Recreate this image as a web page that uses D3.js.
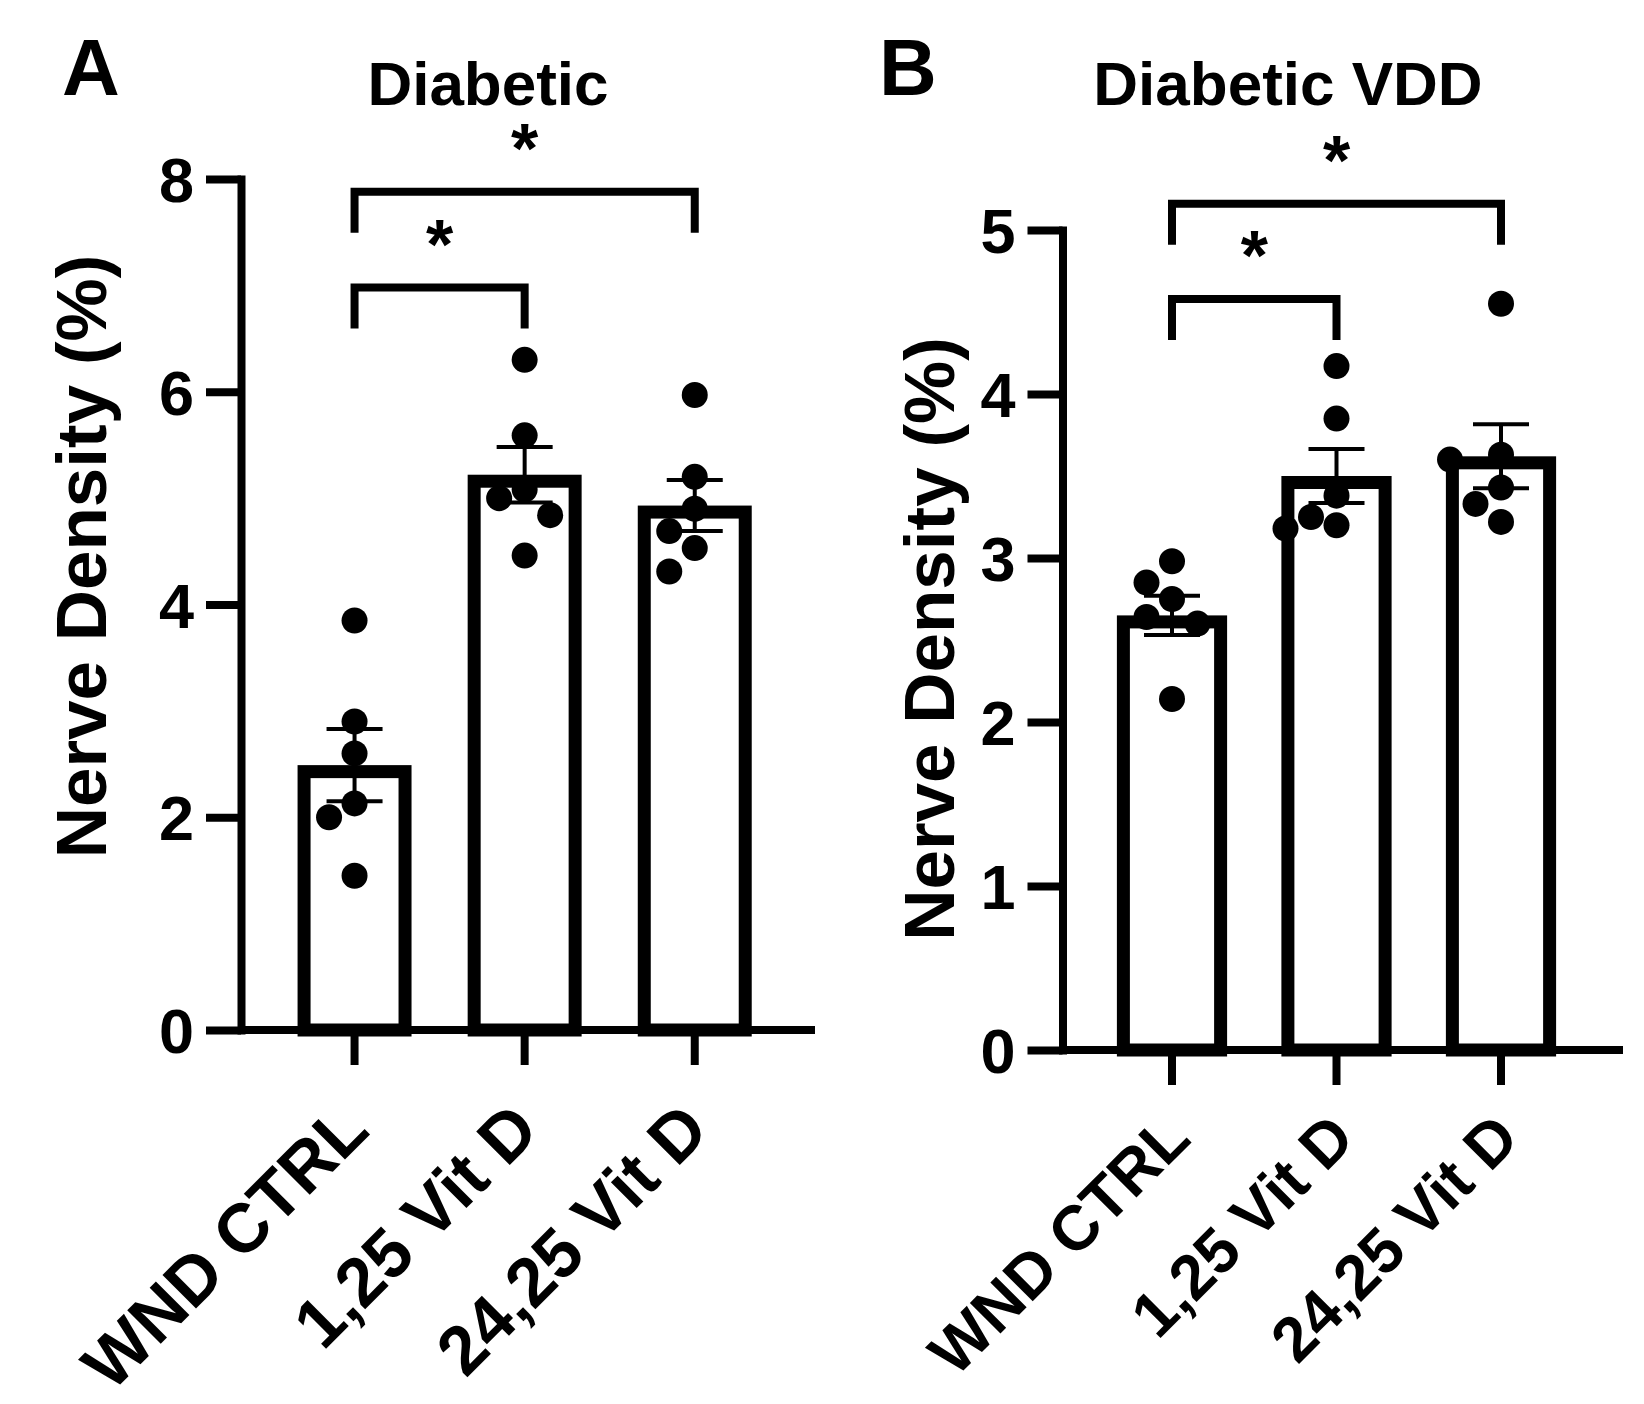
<!DOCTYPE html>
<html>
<head>
<meta charset="utf-8">
<script src="https://cdn.jsdelivr.net/npm/d3@7"></script>
<style>
  body { margin: 0; background: #fff; }
  svg { display: block; }
  text { font-family: "Liberation Sans", Arial, sans-serif; font-weight: bold; fill: #000; }
</style>
</head>
<body>
<svg id="chart" width="1644" height="1404"></svg>
<script>
// groups shared by both panels
const groups = ['WND CTRL', '1,25 Vit D', '24,25 Vit D']

// panel A: Diabetic
const diabeticMean = [2.49, 5.22, 4.93]
const diabeticSem = [0.34, 0.26, 0.24]
const diabeticPoints = [
  [3.85, 2.90, 2.60, 2.13, 2.00, 1.45],
  [6.30, 5.59, 5.08, 5.00, 4.84, 4.46],
  [5.97, 5.20, 4.90, 4.69, 4.53, 4.31]
]
const diabeticTicks = [0, 2, 4, 6, 8]
// [from group, to group, bracket level]
const diabeticComps = [[0, 1, 6.98], [0, 2, 7.88]]

// panel B: Diabetic VDD
const vddMean = [2.65, 3.50, 3.62]
const vddSem = [0.12, 0.165, 0.195]
const vddPoints = [
  [2.98, 2.85, 2.75, 2.64, 2.60, 2.14],
  [4.17, 3.85, 3.38, 3.25, 3.20, 3.18],
  [4.55, 3.63, 3.60, 3.43, 3.33, 3.22]
]
const vddTicks = [0, 1, 2, 3, 4, 5]
const vddComps = [[0, 1, 4.58], [0, 2, 5.16]]

const yLabel = 'Nerve Density (%)'

const panels = [
  {letter: 'A', title: 'Diabetic', mean: diabeticMean, sem: diabeticSem, points: diabeticPoints,
   ticks: diabeticTicks, comps: diabeticComps,
   axisX: 241, yTop: 179, yZero: 1030, xRight: 815, bandStart: 269.5, step: 170.1,
   letterX: 62, titleX: 488, axisTitleX: 105.5, axisTitleY: 556.5,
   labelSize: 69, labelDx: 17, labelDy: 103},
  {letter: 'B', title: 'Diabetic VDD', mean: vddMean, sem: vddSem, points: vddPoints,
   ticks: vddTicks, comps: vddComps,
   axisX: 1062.5, yTop: 230, yZero: 1050, xRight: 1623, bandStart: 1089.75, step: 164.5,
   letterX: 879, titleX: 1288, axisTitleX: 954, axisTitleY: 639,
   labelSize: 63, labelDx: 21, labelDy: 91}
]

const barStroke = 13
const axisStroke = 8
const dotR = 13
const capW = 56
const armLen = 41

const svg = d3.select('#chart')

// simple swarm: place points from highest to lowest, sideways if they would overlap
function swarm(vals, cx, y, spread) {
  const placed = []
  const order = vals.map((v, i) => i).sort((a, b) => vals[b] - vals[a])
  order.forEach(i => {
    const py = y(vals[i])
    for (const k of [0, -1, 1, -2, 2]) {
      const px = cx + k * spread
      const hit = placed.some(p => Math.hypot(p.x - px, p.y - py) < dotR * 2)
      if (!hit) { placed.push({x: px, y: py}); break }
    }
  })
  return placed
}

panels.forEach(p => {
  const g = svg.append('g')
  const yMax = p.ticks[p.ticks.length - 1]

  const y = d3.scaleLinear().domain([0, yMax]).range([p.yZero, p.yTop])
  const x = d3.scaleBand()
    .domain(groups)
    .range([p.bandStart, p.bandStart + p.step * groups.length])
    .paddingInner(0.33)
    .paddingOuter(0.165)
  const bw = x.bandwidth()
  const cx = i => x(groups[i]) + bw / 2

  // panel letter and title
  g.append('text').attr('x', p.letterX).attr('y', 95).style('font-size', '80px').text(p.letter)
  g.append('text').attr('x', p.titleX).attr('y', 105).attr('text-anchor', 'middle')
    .style('font-size', '62px').text(p.title)

  // y axis title
  g.append('text')
    .attr('transform', `translate(${p.axisTitleX},${p.axisTitleY}) rotate(-90)`)
    .attr('text-anchor', 'middle')
    .style('font-size', '71px')
    .text(yLabel)

  // bars
  g.selectAll('rect.bar')
    .data(p.mean)
    .enter().append('rect')
    .attr('class', 'bar')
    .attr('x', (d, i) => x(groups[i]) + barStroke / 2)
    .attr('width', bw - barStroke)
    .attr('y', d => y(d) + barStroke / 2)
    .attr('height', d => y(0) - y(d) - barStroke / 2)
    .attr('fill', '#fff')
    .attr('stroke', '#000')
    .attr('stroke-width', barStroke)

  // individual points
  p.points.forEach((vals, i) => {
    g.append('g').selectAll('circle')
      .data(swarm(vals, cx(i), y, 25.5))
      .enter().append('circle')
      .attr('cx', d => d.x)
      .attr('cy', d => d.y)
      .attr('r', dotR)
      .attr('fill', '#000')
  })

  // error bars (mean +/- SEM)
  const eb = g.append('g').attr('stroke', '#000').attr('stroke-width', 4)
  p.mean.forEach((m, i) => {
    const lo = y(m - p.sem[i]), hi = y(m + p.sem[i])
    eb.append('line').attr('x1', cx(i)).attr('x2', cx(i)).attr('y1', lo).attr('y2', hi)
    eb.append('line').attr('x1', cx(i) - capW / 2).attr('x2', cx(i) + capW / 2).attr('y1', hi).attr('y2', hi)
    eb.append('line').attr('x1', cx(i) - capW / 2).attr('x2', cx(i) + capW / 2).attr('y1', lo).attr('y2', lo)
  })

  // y axis
  const yAxis = d3.axisLeft(y).tickValues(p.ticks).tickFormat(d3.format('d'))
    .tickSize(35).tickSizeOuter(0).tickPadding(12)
  const ya = g.append('g').attr('transform', `translate(${p.axisX},0)`).call(yAxis)
  ya.select('.domain').attr('stroke-width', axisStroke).attr('stroke-linecap', 'square')
  ya.selectAll('.tick line').attr('stroke-width', axisStroke)
  ya.selectAll('.tick text').style('font-size', '63px').attr('font-family', null).attr('dy', '0.36em')

  // x axis
  const xAxis = d3.axisBottom(x).tickSize(35).tickSizeOuter(0).tickFormat('')
  const xa = g.append('g').attr('transform', `translate(0,${p.yZero})`).call(xAxis)
  xa.select('.domain').remove()
  xa.selectAll('.tick line').attr('stroke-width', axisStroke)
  g.append('line')
    .attr('x1', p.axisX).attr('x2', p.xRight)
    .attr('y1', y(0)).attr('y2', y(0))
    .attr('stroke', '#000').attr('stroke-width', axisStroke)

  // rotated category labels
  g.selectAll('text.cat')
    .data(groups)
    .enter().append('text')
    .attr('class', 'cat')
    .attr('text-anchor', 'end')
    .attr('transform', (d, i) => `translate(${cx(i) + p.labelDx},${p.yZero + p.labelDy}) rotate(-45)`)
    .style('font-size', p.labelSize + 'px')
    .text(d => d)

  // significance brackets
  p.comps.forEach(c => {
    const x0 = cx(c[0]), x1 = cx(c[1]), by = y(c[2])
    g.append('path')
      .attr('d', `M${x0},${by + armLen}V${by}H${x1}V${by + armLen}`)
      .attr('fill', 'none')
      .attr('stroke', '#000')
      .attr('stroke-width', axisStroke)
    g.append('text')
      .attr('x', (x0 + x1) / 2)
      .attr('y', by - 19)
      .attr('text-anchor', 'middle')
      .style('font-size', '70px')
      .text('*')
  })
})
</script>
</body>
</html>
